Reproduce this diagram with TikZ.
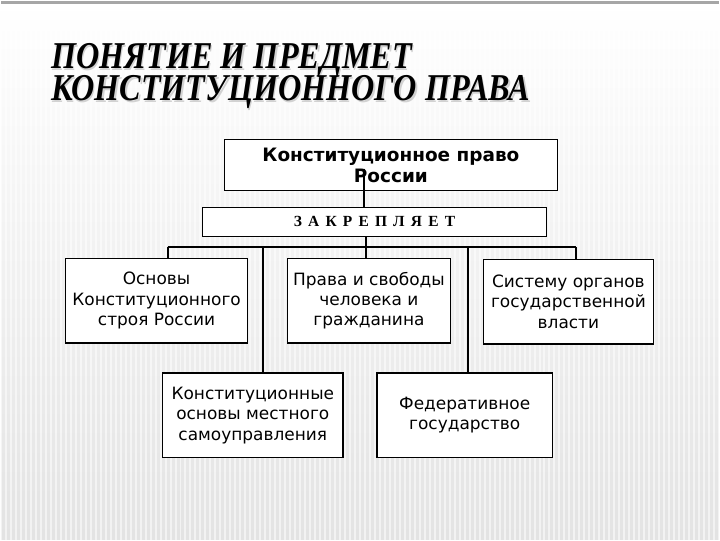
\documentclass[tikz,border=0pt]{standalone}
\usepackage{fontspec}
\setmainfont{DejaVu Sans}
\newfontfamily\titlefont{Liberation Serif}
\newfontfamily\spacedfont[LetterSpace=40]{Liberation Serif Bold}
\newfontfamily\boldsans{DejaVu Sans Bold}
\begin{document}
\begin{tikzpicture}[x=1pt,y=-1pt,
  box/.style={draw,line width=1.3pt,fill=white,align=center,inner sep=0pt,
    font=\fontsize{17}{20.5}\selectfont},
  link/.style={line width=2pt,black},
  ttl/.style={anchor=base west,inner sep=0pt,xscale=0.85,transform shape,
    font=\titlefont\fontsize{38}{38}\selectfont\bfseries\itshape}]
% background
\shade[top color=white,bottom color=gray!22] (0,0) rectangle (720,540);
\foreach \x in {0,5,...,720} \draw[white,line width=2pt,opacity=0.55] (\x,0) -- (\x,540);
\fill[white,opacity=0.6] (0,0) rectangle (720,30);
\fill[gray!70] (0,0) rectangle (720,3);
\useasboundingbox (0,0) rectangle (720,540);
% title
\node[ttl,text=gray!35] at (51.5,69.5) {ПОНЯТИЕ И ПРЕДМЕТ};
\node[ttl,text=gray!35] at (51.5,101.5) {КОНСТИТУЦИОННОГО ПРАВА};
\node[ttl] (title1) at (50,68) {ПОНЯТИЕ И ПРЕДМЕТ};
\node[ttl] (title2) at (50,100) {КОНСТИТУЦИОННОГО ПРАВА};
% boxes
\node[box,minimum width=334,minimum height=51,font=\boldsans\fontsize{18.5}{21}\selectfont] (law) at (391,164.5) {Конституционное право\\России};
\node[box,minimum width=345,minimum height=29,font=\spacedfont\fontsize{15.5}{16}\selectfont] (zak) at (374.5,221.5) {ЗАКРЕПЛЯЕТ};
\node[box,minimum width=182,minimum height=85] (osn) at (156,300.5) {Основы\\Конституционного\\строя России};
\node[box,minimum width=164,minimum height=85] (prava) at (369,300.5) {Права и свободы\\человека и\\гражданина};
\node[box,minimum width=170,minimum height=85] (sist) at (569,301.5) {Систему органов\\государственной\\власти};
\node[box,minimum width=181,minimum height=85] (mest) at (252.5,415.5) {Конституционные\\основы местного\\самоуправления};
\node[box,minimum width=176,minimum height=85] (fed) at (465,415.5) {Федеративное\\государство};
% connectors
\coordinate (top) at (364,168);
\coordinate (bus) at (366,247);
\coordinate (busL) at (167,247);
\coordinate (busR) at (577,247);
\draw[link] (top) -- (top |- zak.north);
\draw[link] (bus |- zak.south) -- (bus);
\draw[link] (busL) -- (busR);
\draw[link] (busL) -- (busL |- osn.north);
\draw[link] (bus) -- (bus |- prava.north);
\draw[link] (busR) -- (busR |- sist.north);
\draw[link] (263,247) -- (263,247 |- mest.north);
\draw[link] (468,247) -- (468,247 |- fed.north);
\end{tikzpicture}
\end{document}
